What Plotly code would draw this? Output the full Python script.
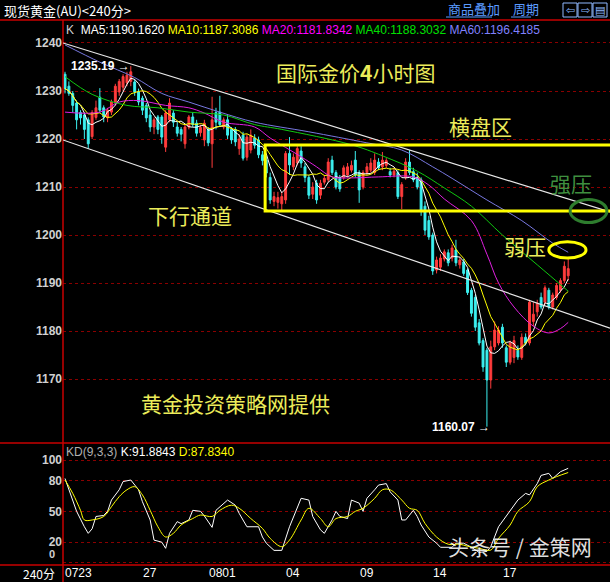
import plotly.graph_objects as go
import pandas as pd

# ---------------- data ----------------
opens = [
    1233.5, 1231, 1229.5, 1227.5, 1225.5, 1225, 1224, 1220.5, 1224.5, 1228.7,
    1226.5, 1224.4, 1225.6, 1227.5, 1229.8, 1230.8, 1231.7, 1232, 1231.9, 1229.8,
    1228.5, 1227, 1225, 1222.5, 1224.6, 1224.6, 1218.3, 1224, 1225.4, 1222.5,
    1222, 1219, 1222.5, 1224.6, 1223.3, 1221.3, 1219.8, 1222, 1219, 1225.5,
    1225.6, 1222.5, 1224, 1222, 1222, 1218, 1220.8, 1216.2, 1217.7, 1220.2,
    1219.8, 1216.7, 1215.6, 1212, 1207, 1206.8, 1206.5, 1207.3, 1217, 1214.2,
    1215, 1217.5, 1214.2, 1212, 1208.5, 1210.8, 1208.3, 1211, 1211.5, 1215.6,
    1213, 1211.8, 1212, 1212.5, 1213.5, 1215.6, 1213, 1210, 1213, 1213.5,
    1213, 1215.2, 1214.2, 1214.5, 1213.2, 1212.5, 1213, 1208, 1212, 1215.2,
    1213.2, 1212, 1211.5, 1206, 1203, 1200,
    1192.7, 1193.3, 1195, 1196.3, 1195.2, 1196.9, 1193.8, 1194.4, 1192.7, 1188.5,
    1187, 1181.7, 1178, 1176, 1169.8, 1176.7, 1177.5, 1180.8, 1176.5, 1173.5,
    1174.5, 1176, 1174.5, 1178.7, 1177.5, 1182, 1184, 1187, 1186, 1188.5,
    1185, 1187, 1188.5, 1190.5, 1191.5]
closes = [
    1230.5, 1229.5, 1227, 1224, 1224.4, 1222, 1219, 1225.5, 1226.5, 1226,
    1224.6, 1226, 1227.7, 1231, 1232, 1233, 1233.3, 1234, 1229.8, 1227.7,
    1226, 1224.4, 1222.5, 1224, 1222, 1220.4, 1225.4, 1227.5, 1223.5, 1221.2,
    1221, 1222.5, 1224.6, 1223, 1221.2, 1222.4, 1223.3, 1219.2, 1224, 1223.5,
    1223, 1224, 1220.8, 1219.8, 1219.4, 1220, 1216, 1220.4, 1220.8, 1218.7,
    1216.7, 1215.5, 1212.9, 1207.3, 1208, 1207.8, 1208, 1217, 1214.6, 1216.2,
    1218, 1215, 1212, 1208.3, 1210, 1207.3, 1210.8, 1211.8, 1215.2, 1213,
    1210, 1209.6, 1214, 1214.2, 1214.5, 1212.5, 1209.4, 1213, 1214.2, 1215,
    1215.6, 1214, 1215.6, 1215.5, 1212.5, 1213.3, 1208, 1210.5, 1215.2, 1213,
    1211.5, 1210, 1205, 1201, 1199.6, 1192.5,
    1194.8, 1195.2, 1196.5, 1194.2, 1197.3, 1194.2, 1194.8, 1192, 1188, 1183.7,
    1180.8, 1177.5, 1172.5, 1169.8, 1176.7, 1180.2, 1180.2, 1177.5, 1173.5, 1177.5,
    1178, 1174.6, 1178.7, 1177.5, 1186, 1183.5, 1185.8, 1185, 1189, 1185,
    1187.5, 1189.5, 1190.5, 1193.5, 1193]
highs = [
    1234, 1232, 1230, 1228, 1226, 1225.5, 1224.5, 1226, 1228, 1230.6,
    1227, 1226.5, 1228.2, 1231.5, 1232.5, 1233.5, 1234, 1235.19, 1232.5, 1230.5,
    1229, 1227.5, 1226, 1224.5, 1225, 1225, 1226, 1228.5, 1226, 1223.5,
    1222.5, 1223, 1225, 1225.5, 1224, 1223, 1224, 1222.5, 1228.8, 1226.5,
    1229, 1224.5, 1225, 1222.5, 1222.5, 1221, 1221.5, 1221, 1222, 1221,
    1220.5, 1217.5, 1216.5, 1213, 1209, 1209, 1209, 1217.5, 1220.4, 1217,
    1218.5, 1218.5, 1215, 1212.5, 1211, 1211.5, 1211.5, 1212.5, 1216, 1216.5,
    1213.5, 1212.5, 1214.5, 1215, 1215.5, 1217.5, 1213.5, 1213.5, 1215, 1216,
    1217, 1216, 1217.3, 1216, 1214, 1214, 1213.5, 1211, 1216, 1217.7,
    1214, 1213, 1212, 1207, 1204, 1200.5,
    1195.5, 1196, 1197, 1197, 1198, 1199, 1195.5, 1195, 1193, 1189,
    1187.5, 1182.5, 1178.5, 1176.5, 1178, 1182, 1181, 1181.5, 1177, 1178,
    1179, 1177, 1179.5, 1179.5, 1186.5, 1186, 1186.5, 1188, 1189.5, 1189,
    1188, 1190, 1191, 1194.5, 1195.2]
lows = [
    1229.5, 1229, 1225.5, 1222, 1223, 1220, 1218, 1220, 1224, 1225.5,
    1223.5, 1223.5, 1225, 1227, 1229, 1230, 1231, 1231, 1229, 1227,
    1225, 1223.5, 1221.5, 1221, 1221, 1219, 1217.3, 1223.5, 1222.5, 1220.5,
    1219.5, 1218, 1222, 1222.5, 1220.5, 1220.5, 1218.5, 1218.5, 1214, 1222,
    1222.5, 1222, 1220, 1219, 1218.5, 1216.7, 1215.5, 1215.5, 1217, 1218,
    1216, 1214.5, 1212, 1206.5, 1206, 1205.5, 1204.8, 1206.5, 1212.5, 1213.5,
    1214.5, 1214, 1211, 1207.5, 1207.5, 1206.5, 1207.5, 1210.5, 1211, 1212.5,
    1209.5, 1209, 1211.5, 1212, 1213, 1212, 1206.7, 1209.5, 1212.5, 1213,
    1212.5, 1213.5, 1213.5, 1214, 1212, 1212, 1207.5, 1205.4, 1211.5, 1212.5,
    1211, 1209.5, 1204, 1200, 1199, 1191.7,
    1192, 1192.5, 1194.5, 1193.5, 1194.5, 1193.5, 1193, 1191.5, 1187.5, 1183,
    1180, 1177, 1171.5, 1160.07, 1168, 1176, 1177, 1176.5, 1172.5, 1173,
    1173.3, 1174, 1174, 1177, 1177, 1181, 1183, 1184.5, 1185.5, 1184.5,
    1184.5, 1186.5, 1188, 1190, 1190.5]
bars = list(range(len(closes)))

# longer moving averages (bar index, value)
ma20_bars = [0, 9, 14, 19, 26, 32, 36, 41, 49, 53, 61, 65, 69, 74, 81, 90, 94, 98, 105, 109, 112, 116, 121, 125, 128, 130]
ma20_vals = [1225.6, 1225.6, 1227.7, 1228, 1227, 1226.5, 1225.4, 1223.5, 1222.5, 1220.2, 1216.3, 1214.2, 1212.1, 1211.9,
             1212.1, 1212.1, 1210.4, 1207.5, 1203, 1196, 1190, 1185, 1181, 1179.6, 1180.5, 1181.8]
ma40_bars = [0, 7, 16, 24, 32, 41, 49, 56, 74, 82, 91, 98, 105, 113, 122, 130]
ma40_vals = [1233, 1229.3, 1227, 1226.5, 1225.6, 1225, 1223, 1222, 1218.8, 1216.5, 1213.3, 1209.8, 1206, 1200, 1193.8, 1188.3]
ma60_bars = [0, 9, 18, 25, 32, 40, 49, 63, 78, 87, 95, 100, 109, 118, 126, 130]
ma60_vals = [1239.6, 1236, 1232.8, 1229.5, 1227.7, 1225.6, 1223.5, 1221.5, 1219.2, 1217.7, 1214.2, 1211.8, 1207.3, 1203, 1198.3, 1196.4]

# KD(9,3,3) panel
k_bars = [0, 1, 3, 5, 6, 7, 8, 10, 11, 12, 14, 15, 17, 19, 20, 22, 23, 25, 26, 27, 29, 30, 32, 33, 35, 36, 38, 39, 41, 42,
          44, 45, 47, 50, 51, 52, 54, 56, 58, 60, 61, 63, 64, 66, 67, 69, 70, 71, 73, 74, 76, 77, 78, 80, 81, 83, 84, 86,
          87, 88, 90, 91, 92, 94, 96, 97, 100, 101, 103, 105, 107, 109, 110, 112, 114, 115, 117, 119, 120, 122, 123, 125,
          126, 128, 130]
k_vals = [82, 71, 50, 35, 28.6, 33, 45, 46, 50, 61, 71, 79, 80.5, 71, 59.4, 41.6, 22, 20, 14, 28.6, 40, 38, 41.6, 51, 50,
          45.5, 34.4, 51, 57.8, 61, 56, 48, 35, 35, 25, 19, 12, 12, 35, 54.5, 62.7, 61, 45, 32, 28.6, 41.6, 50, 45, 43, 61,
          58, 50, 62.7, 71, 75.6, 77, 69, 61, 41.6, 41.6, 51, 45, 36.7, 25, 19, 15, 15, 19, 19, 15, 10, 11, 15.6, 35, 45,
          50, 61, 67.5, 66, 77, 85, 87, 82, 88.6, 91.9]
d_bars = [0, 2, 4, 5, 7, 10, 12, 14, 16, 18, 20, 22, 24, 26, 28, 30, 33, 35, 38, 40, 43, 45, 48, 51, 53, 56, 58, 61, 63,
          66, 68, 70, 73, 75, 77, 80, 82, 84, 87, 89, 91, 93, 96, 99, 102, 104, 107, 110, 112, 115, 117, 120, 122, 125, 127, 130]
d_vals = [80.5, 67.5, 51, 41.6, 41.6, 45, 54.5, 64.3, 71, 74, 66, 51, 35, 25, 28.6, 36.7, 43, 46.4, 45, 51, 56, 53, 43,
          33.4, 23.7, 15.6, 22, 41.6, 53, 43, 35, 43, 45, 50, 53, 62.7, 71, 71, 61, 53, 51, 38.3, 25, 18, 18, 16, 14, 12.3,
          23.7, 36.7, 50, 59.4, 74, 80.5, 83.8, 87.8]

price_ticks = [1170, 1180, 1190, 1200, 1210, 1220, 1230, 1240]
kd_ticks = [0, 20, 50, 80, 100]
date_labels = ["0723", "27", "0801", "04", "09", "14", "17"]
date_bars = [0, 20, 37, 57, 76, 95, 113]

ma_names = ["MA5", "MA10", "MA20", "MA40", "MA60"]
ma_last = [1190.1620, 1187.3086, 1181.8342, 1188.3032, 1196.4185]
ma_colors = ["#ffffff", "#ffff00", "#ff00ff", "#00e000", "#8080ff"]
kd_last = [91.8843, 87.8340]

# ---------------- derived ----------------
s = pd.Series(closes)
ma5 = s.rolling(5, min_periods=1).mean()
ma10 = s.rolling(10, min_periods=1).mean()

W, H = 610, 582
def py(p):
    return 1 - p / H

X0 = 63 / W
XR = [-0.52, 140.8]

fig = go.Figure()
fig.add_trace(go.Candlestick(
    x=bars, open=opens, high=highs, low=lows, close=closes,
    increasing=dict(line=dict(color="#ff3c3c", width=1), fillcolor="#ff3c3c"),
    decreasing=dict(line=dict(color="#3cf0f0", width=1), fillcolor="#3cf0f0"),
    whiskerwidth=0, xaxis="x", yaxis="y", hoverinfo="skip"))
fig.add_trace(go.Scatter(x=bars, y=ma5, mode="lines", line=dict(color=ma_colors[0], width=1), xaxis="x", yaxis="y"))
fig.add_trace(go.Scatter(x=bars, y=ma10, mode="lines", line=dict(color=ma_colors[1], width=1), xaxis="x", yaxis="y"))
fig.add_trace(go.Scatter(x=ma20_bars, y=ma20_vals, mode="lines", line=dict(color="#e020e0", width=1, shape="spline"), xaxis="x", yaxis="y"))
fig.add_trace(go.Scatter(x=ma40_bars, y=ma40_vals, mode="lines", line=dict(color="#10c810", width=1, shape="spline"), xaxis="x", yaxis="y"))
fig.add_trace(go.Scatter(x=ma60_bars, y=ma60_vals, mode="lines", line=dict(color="#7878e0", width=1, shape="spline"), xaxis="x", yaxis="y"))
fig.add_trace(go.Scatter(x=k_bars, y=k_vals, mode="lines", line=dict(color="#ffffff", width=1), xaxis="x2", yaxis="y2"))
fig.add_trace(go.Scatter(x=d_bars, y=d_vals, mode="lines", line=dict(color="#ffff00", width=1, shape="spline"), xaxis="x2", yaxis="y2"))

grid = dict(showgrid=True, gridcolor="#8a0000", griddash="dot", gridwidth=1)
fig.update_layout(
    width=W, height=H, margin=dict(l=0, r=0, t=0, b=0),
    paper_bgcolor="#000000", plot_bgcolor="#000000", showlegend=False,
    font=dict(family="Liberation Sans, Noto Sans CJK SC", color="#ffffff", size=12),
    xaxis=dict(domain=[X0, 1], range=XR, showgrid=False, zeroline=False, showticklabels=False,
               rangeslider=dict(visible=False), anchor="y", automargin=False, fixedrange=True),
    yaxis=dict(domain=[py(443), py(20)], range=[1156.67, 1244.79], tickvals=price_ticks,
               tickfont=dict(family="Liberation Sans", size=12, color="#d0d0d0", weight="bold"),
               zeroline=False, ticks="", automargin=False, **grid),
    xaxis2=dict(domain=[X0, 1], range=XR, showgrid=False, zeroline=False, showticklabels=False,
                anchor="y2", automargin=False),
    yaxis2=dict(domain=[py(565), py(443)], range=[-2.24, 116.55], tickvals=kd_ticks,
                ticktext=["" if v == 0 else str(v) for v in kd_ticks],
                tickfont=dict(family="Liberation Sans", size=12, color="#d0d0d0", weight="bold"),
                zeroline=False, ticks="", automargin=False, **grid),
)

red = "#c80000"
shapes = [
    dict(type="line", xref="paper", yref="paper", x0=0, x1=1, y0=py(20), y1=py(20), line=dict(color=red, width=1.5)),
    dict(type="line", xref="paper", yref="paper", x0=0, x1=1, y0=py(443), y1=py(443), line=dict(color=red, width=1.5)),
    dict(type="line", xref="paper", yref="paper", x0=0, x1=1, y0=py(565), y1=py(565), line=dict(color=red, width=1.5)),
    dict(type="line", xref="paper", yref="paper", x0=X0, x1=X0, y0=0, y1=py(20), line=dict(color=red, width=1.5)),
    # channel lines
    dict(type="line", xref="x", yref="y", x0=-0.52, y0=1240, x1=140.8, y1=1204.8, line=dict(color="#e8e8e8", width=1.2)),
    dict(type="line", xref="x", yref="y", x0=-0.52, y0=1219.8, x1=140.8, y1=1180.6, line=dict(color="#e8e8e8", width=1.2)),
    # consolidation box
    dict(type="rect", xref="x", yref="y", x0=51.7, x1=150, y0=1205, y1=1218.75, line=dict(color="#ffff00", width=3)),
    # ellipses
    dict(type="circle", xref="x", yref="y", x0=130.5, x1=140, y0=1202.6, y1=1207.4, line=dict(color="#2e7d2e", width=3)),
    dict(type="circle", xref="x", yref="y", x0=125, x1=134.6, y0=1195.2, y1=1198.6, line=dict(color="#ffff00", width=3)),
    # header link underlines
    dict(type="line", xref="paper", yref="paper", x0=446 / W, x1=492 / W, y0=py(17), y1=py(17), line=dict(color="#5b9bff", width=1)),
    dict(type="line", xref="paper", yref="paper", x0=511 / W, x1=531 / W, y0=py(17), y1=py(17), line=dict(color="#5b9bff", width=1)),
]
for bx in [563, 578, 593]:
    shapes.append(dict(type="rect", xref="paper", yref="paper", x0=bx / W, x1=(bx + 14) / W, y0=py(17), y1=py(3),
                       line=dict(color="#8fb8ff", width=1)))
fig.update_layout(shapes=shapes)

ann = []
def A(x, y, text, size=12, color="#ffffff", xanchor="left", family="Noto Sans CJK SC", xref="paper", yref="paper", **kw):
    ann.append(dict(x=x, y=y, xref=xref, yref=yref, text=text, showarrow=False, xanchor=xanchor, yanchor="middle",
                    font=dict(size=size, color=color, family=family), **kw))

A(2 / W, py(10), "现货黄金(AU)&lt;240分&gt;", size=13)
A(446 / W, py(9), "商品叠加", size=13, color="#5b9bff")
A(511 / W, py(9), "周期", size=13, color="#5b9bff")
A(570 / W, py(10), "⇦", size=11, color="#8fb8ff", xanchor="center", family="DejaVu Sans")
A(585 / W, py(10), "⇨", size=11, color="#8fb8ff", xanchor="center", family="DejaVu Sans")
A(600 / W, py(10), "▤", size=11, color="#8fb8ff", xanchor="center", family="DejaVu Sans")

info = "K\u00a0\u00a0" + " ".join(
    f'<span style="color:{c}">{n}:{v:.4f}</span>' for n, v, c in zip(ma_names, ma_last, ma_colors))
A(64 / W, py(30), info, size=12, color="#d0d0d0", family="Liberation Sans")
kd_info = ('<span style="color:#b0b0b0">KD(9,3,3)</span> '
           f'<span style="color:#ffffff">K:{kd_last[0]:.4f}</span> '
           f'<span style="color:#ffff00">D:{kd_last[1]:.4f}</span>')
A(64 / W, py(452), kd_info, size=12, family="Liberation Sans")
A(57 / W, 8.5, "0", size=11, color="#d0d0d0", xanchor="right", family="Liberation Sans", yref="y2")
ann[-1]["font"]["weight"] = "bold"

# max / min price markers
hi_i = highs.index(max(highs))
lo_i = lows.index(min(lows))
A(hi_i + 0.3, max(highs), f"<b>{max(highs):.2f}</b> →", size=12, xanchor="right", xref="x", yref="y", family="Liberation Sans")
A(lo_i + 1.2, min(lows), f"<b>{min(lows):.2f}</b> →", size=12, xanchor="right", xref="x", yref="y", family="Liberation Sans")

# date labels
for lab, b in zip(date_labels, date_bars):
    A(b - 0.4, py(573), lab, size=12, xref="x2", family="Liberation Sans")
A(57 / W, py(573), "240分", size=12, xanchor="right")

# commentary text
yel = "#ecec5a"
A(355 / W, py(72), "国际金价<b>4</b>小时图", size=21, color=yel, xanchor="center")
A(480 / W, py(126), "横盘区", size=21, color=yel, xanchor="center")
A(571 / W, py(183), "强压", size=21, color="#3f8f3f", xanchor="center")
A(190 / W, py(215), "下行通道", size=21, color=yel, xanchor="center")
A(525 / W, py(246), "弱压", size=21, color=yel, xanchor="center")
A(235 / W, py(403), "黄金投资策略网提供", size=21, color=yel, xanchor="center")
A(520 / W, py(546), "头条号 / 金策网", size=21, color="rgba(255,255,255,0.88)", xanchor="center")

fig.update_layout(annotations=ann)
fig.write_html("out.html", config={"displayModeBar": False},
               post_script="document.body.style.margin='0';document.body.style.overflow='hidden';")
